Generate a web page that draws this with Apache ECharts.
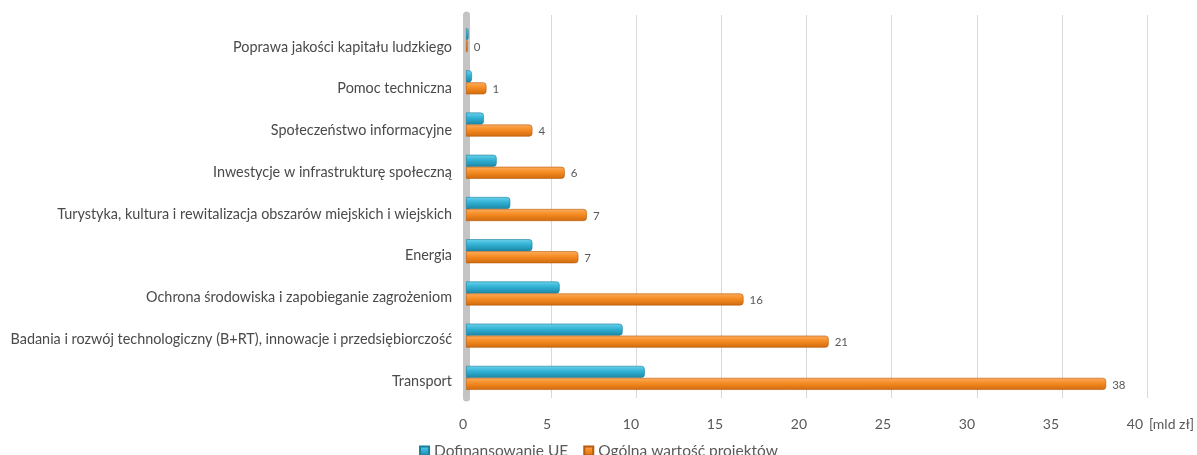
<!DOCTYPE html>
<html>
<head>
<meta charset="utf-8">
<script src="https://cdn.jsdelivr.net/npm/echarts@6/dist/echarts.min.js"></script>
<style>
  html, body { margin: 0; padding: 0; background: #fff; }
  #chart { width: 1197px; height: 455px; }
</style>
</head>
<body>
<div id="chart"></div>
<script>
// categories, top to bottom
const categories = [
  "Poprawa jakości kapitału ludzkiego",
  "Pomoc techniczna",
  "Społeczeństwo informacyjne",
  "Inwestycje w infrastrukturę społeczną",
  "Turystyka, kultura i rewitalizacja obszarów miejskich i wiejskich",
  "Energia",
  "Ochrona środowiska i zapobieganie zagrożeniom",
  "Badania i rozwój technologiczny (B+RT), innowacje i przedsiębiorczość",
  "Transport"
];
const dofinansowanie = [0.15, 0.35, 1.05, 1.8, 2.6, 3.9, 5.5, 9.2, 10.5];
const ogolnaWartosc = [0.1, 1.2, 3.9, 5.8, 7.1, 6.6, 16.3, 21.3, 37.6];
const xTicks = [0, 5, 10, 15, 20, 25, 30, 35, 40];

const seriesNames = ["Dofinansowanie UE", "Ogólna wartość projektów"];
const FONT = "Lato";

function grad(top, mid, bottom) {
  return new echarts.graphic.LinearGradient(0, 0, 0, 1, [
    {offset: 0, color: top},
    {offset: 0.45, color: mid},
    {offset: 1, color: bottom}
  ]);
}

const chart = echarts.init(document.getElementById("chart"), null, {renderer: "canvas"});

const option = {
  animation: false,
  textStyle: {fontFamily: FONT},
  grid: [
    // back wall with gridlines
    {left: 466, right: 50, top: 15, bottom: 57},
    // bars
    {left: 466, right: 50, top: 19, bottom: 56},
    // front: axis labels and category names
    {left: 463, right: 61, top: 26, bottom: 53}
  ],
  xAxis: [
    {
      gridIndex: 0, type: "value", min: xTicks[0], max: xTicks[xTicks.length - 1], interval: 5,
      axisLine: {show: false}, axisTick: {show: false}, axisLabel: {show: false},
      splitLine: {lineStyle: {color: "#d9d9d9", width: 1}}
    },
    {
      gridIndex: 1, type: "value", min: xTicks[0], max: xTicks[xTicks.length - 1], interval: 5,
      axisLine: {show: false}, axisTick: {show: false}, axisLabel: {show: false},
      splitLine: {show: false}
    },
    {
      gridIndex: 2, type: "value", min: xTicks[0], max: xTicks[xTicks.length - 1], interval: 5,
      axisLine: {show: false}, axisTick: {show: false}, splitLine: {show: false},
      axisLabel: {margin: 15, color: "#595959", fontSize: 14, fontFamily: FONT},
      name: "[mld zł]", nameLocation: "end", nameGap: 0,
      nameTextStyle: {color: "#595959", fontSize: 14, fontFamily: FONT,
        align: "left", verticalAlign: "top", padding: [15, 0, 0, 14]}
    }
  ],
  yAxis: [
    {
      gridIndex: 0, type: "category", data: categories, inverse: true,
      axisLine: {show: true, lineStyle: {color: "#c4c4c4", width: 7}},
      axisTick: {show: false}, axisLabel: {show: false}, splitLine: {show: false}
    },
    {
      gridIndex: 1, type: "category", data: categories, inverse: true,
      axisLine: {show: false}, axisTick: {show: false}, axisLabel: {show: false}
    },
    {
      gridIndex: 2, type: "category", data: categories, inverse: true,
      axisLine: {show: false}, axisTick: {show: false},
      axisLabel: {margin: 11, color: "#4a4a4a", fontSize: 14.4, fontFamily: FONT}
    }
  ],
  legend: {
    data: seriesNames,
    top: 438, left: "center",
    icon: "rect", itemWidth: 9, itemHeight: 9, itemGap: 15,
    textStyle: {color: "#595959", fontSize: 15.5, fontFamily: FONT}
  },
  series: [
    {
      name: seriesNames[0], type: "bar", xAxisIndex: 1, yAxisIndex: 1,
      data: dofinansowanie, barWidth: 12, barGap: "0%",
      itemStyle: {
        color: grad("#6ad2ec", "#31b1d4", "#1c86a5"),
        borderColor: "#1a7f9c", borderWidth: 0.6, borderRadius: [0, 3, 3, 0]
      }
    },
    {
      name: seriesNames[1], type: "bar", xAxisIndex: 1, yAxisIndex: 1,
      data: ogolnaWartosc, barWidth: 12, barGap: "0%",
      itemStyle: {
        color: grad("#fcad5e", "#f58b22", "#cf6a0e"),
        borderColor: "#b85a0c", borderWidth: 0.6, borderRadius: [0, 3, 3, 0]
      },
      label: {
        show: true, position: "right", distance: 6,
        color: "#595959", fontSize: 11.5, fontFamily: FONT,
        formatter: (p) => String(Math.round(p.value)),
        offset: [0, 1]
      }
    }
  ]
};

chart.setOption(option);
</script>
</body>
</html>
